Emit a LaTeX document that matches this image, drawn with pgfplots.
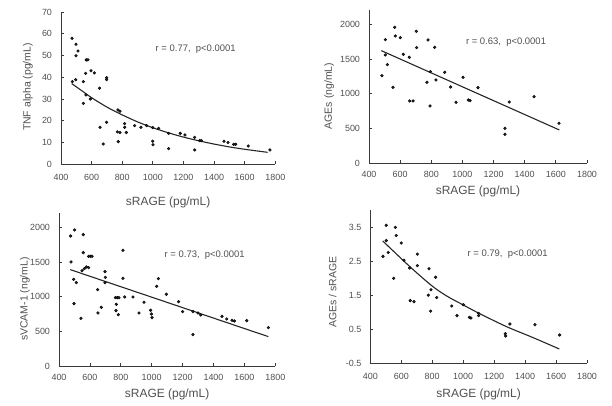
\documentclass[border=0pt]{standalone}
\usepackage{fontspec}
\setmainfont{Liberation Sans}
\usepackage{pgfplots}
\pgfplotsset{compat=1.18}
\definecolor{txt}{HTML}{505050}
\definecolor{axc}{HTML}{3a3a3a}
\pgfplotsset{
 panel/.style={
   scale only axis,
   axis lines*=left,
   axis line style={axc, line width=0.9bp},
   tick align=inside, major tick length=3bp,
   tick style={axc, line width=0.8bp},
   xmin=400, xmax=1800, xtick={400,600,...,1800},
   tick label style={font=\fontsize{9}{10}\selectfont, text=txt},
   /pgf/number format/assume math mode=true,
   /pgf/number format/set thousands separator={},
   yticklabel style={xshift=-5.5bp},
   xlabel={sRAGE (pg/mL)},
   x label style={font=\fontsize{12}{14}\selectfont, text=txt, anchor=center},
   y label style={font=\fontsize{10.5}{12}\selectfont, text=txt, anchor=center},
   clip=false,
 },
 dots/.style={only marks, mark=*, mark size=1.4bp, mark options={draw=none, fill=black!85}},
 fitl/.style={no marks, black!85, line width=1.1bp, smooth},
}
\tikzset{ann/.style={font=\fontsize{9.5}{11}\selectfont, text=txt}}
\begin{document}
\begin{tikzpicture}
\useasboundingbox (0bp,0bp) rectangle (612bp,406bp);
% Panel 1
\begin{axis}[panel, at={(61bp,241.7bp)}, anchor=south west, width=214.3bp, height=152.3bp,
  ymin=0, ymax=70, ytick={0,10,...,70},
  xticklabel style={yshift=-6.5bp},
  ylabel={TNF alpha (pg/mL)},
  xlabel style={at={(axis description cs:0.5,-0.25)}},
  ylabel style={at={(axis description cs:-0.154,0.507)}}]
\addplot[dots] coordinates {
(472,57.9)(498,55.2)(511,52.1)(498,49.9)(474,38.0)(496,38.9)(546,38.0)(561,41.8)
(565,48)(576,48)(596,43)(618,42)(563,31.9)(592,30)(546,28)(652,35)(698,39.8)(698,38.9)
(655,17)(676,9.3)(698,19.3)(772,25)(785,24.4)(768,14.9)(785,14.6)(774,10.4)(816,18.7)
(816,17)(827,14.6)(881,17.8)(922,17)(959,17.8)(999,16.9)(999,10.6)(1001,9)(1038,16.5)
(1103,7.2)(1103,14.2)(1179,14.2)(1210,13.5)(1273,12.4)(1273,6.6)(1306,10.9)(1317,10.9)
(1465,10.6)(1491,10)(1528,9.2)(1541,9.2)(1623,8.4)(1765,6.6)};
\addplot[fitl] coordinates {
(470,37.1)(550,33.1)(600,30.6)(700,26.3)(800,22.7)(900,19.5)(1000,16.8)(1100,14.5)
(1200,12.5)(1300,10.8)(1400,9.3)(1500,8.0)(1600,6.9)(1750,5.5)};
\node[ann] at (axis cs:1280,52.9) {r = 0.77,\ \ p<0.0001};
\end{axis}
% Panel 2
\begin{axis}[panel, at={(369bp,242.7bp)}, anchor=south west, width=218bp, height=152.9bp,
  ymin=0, ymax=2200, ytick={0,500,...,2000},
  xticklabel style={yshift=-4bp},
  ylabel={AGEs (ng/mL)},
  xlabel style={at={(axis description cs:0.5,-0.186)}},
  ylabel style={at={(axis description cs:-0.183,0.44)}}]
\addplot[dots] coordinates {
(483,1261)(505,1779)(505,1559)(518,1420)(554,1093)(565,1957)(569,1832)(601,1808)
(620,1568)(659,1525)(661,897)(683,897)(704,1899)(706,1664)(779,1775)(772,1165)
(794,1319)(792,825)(822,1669)(830,1199)(886,1309)(924,1098)(959,878)(1004,1237)
(1038,911)(1049,902)(1100,1089)(1273,504)(1273,417)(1301,882)(1460,959)(1620,576)};
\addplot[fitl] coordinates {(479,1621)(1622,480)};
\node[ann] at (axis cs:1280,1741) {r = 0.63,\ \ p<0.0001};
\end{axis}
% Panel 3
\begin{axis}[panel, at={(59bp,39.7bp)}, anchor=south west, width=216.3bp, height=152.9bp,
  ymin=0, ymax=2200, ytick={0,500,...,2000},
  xticklabel style={yshift=-4bp},
  ylabel={sVCAM-1 (ng/mL)},
  xlabel style={at={(axis description cs:0.5,-0.186)}},
  ylabel style={at={(axis description cs:-0.157,0.44)}}]
\addplot[dots] coordinates {
(475,1875)(501,1962)(478,1501)(495,1252)(512,1204)(497,902)(542,691)(557,1894)
(557,1635)(549,1376)(564,1405)(577,1429)(592,1420)(592,1583)(604,1583)(614,1583)
(650,1103)(652,767)(674,849)(698,1362)(700,1280)(698,1204)(765,988)(777,988)(788,988)
(771,892)(769,801)(784,743)(814,1669)(814,1266)(825,998)(879,998)(918,767)(950,921)
(993,806)(998,753)(1002,700)(1032,1151)(1043,1261)(1095,1036)(1174,930)(1200,787)
(1267,787)(1267,456)(1300,767)(1317,739)(1455,719)(1486,681)(1520,662)(1535,652)
(1615,657)(1755,556)};
\addplot[fitl] coordinates {(473,1391)(1755,427)};
\node[ann] at (axis cs:1343,1592) {r = 0.73,\ \ p<0.0001};
\end{axis}
% Panel 4
\begin{axis}[panel, at={(370.3bp,43bp)}, anchor=south west, width=216.7bp, height=152.6bp,
  ymin=-0.5, ymax=4, ytick={-0.5,0.5,1.5,2.5,3.5},
  xticklabel style={yshift=-6.5bp},
  ylabel={AGEs / sRAGE},
  xlabel style={at={(axis description cs:0.5,-0.208)}},
  ylabel style={at={(axis description cs:-0.174,0.465)}}]
\addplot[dots] coordinates {
(482,2.645)(503,3.56)(503,3.11)(516,2.76)(551,1.996)(562,3.50)(568,3.26)(600,3.04)
(618,2.53)(654,2.30)(658,1.34)(682,1.31)(704,2.71)(704,2.37)(779,2.28)(775,1.50)
(792,1.66)(790,1.03)(822,2.03)(829,1.43)(926,1.18)(960,0.896)(1001,1.22)(1040,0.846)
(1050,0.827)(1100,0.964)(1100,0.896)(1272,0.365)(1274,0.296)(1302,0.65)(1464,0.63)
(1623,0.326)};
\addplot[fitl] coordinates {
(480,3.10)(656,2.34)(797,1.78)(894,1.475)(1001,1.21)(1109,0.95)(1281,0.57)(1453,0.246)(1621,-0.087)};
\node[ann] at (axis cs:1287,2.70) {r = 0.79,\ \ p<0.0001};
\end{axis}
\end{tikzpicture}
\end{document}
